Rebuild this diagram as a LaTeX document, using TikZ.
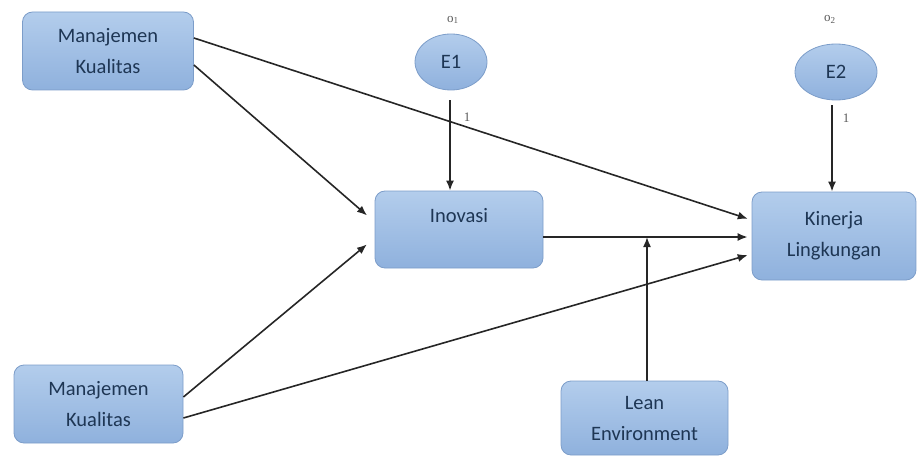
\documentclass[tikz,border=0pt]{standalone}
\usepackage{fontspec}
\setmainfont{Carlito}
\newfontfamily\serifl{Liberation Serif}
\usetikzlibrary{shapes.geometric,arrows.meta,calc}
\definecolor{boxtop}{HTML}{B3CDEC}
\definecolor{boxbot}{HTML}{8FB1DD}
\definecolor{boxline}{HTML}{7C9DC9}
\definecolor{txtc}{HTML}{1E3654}
\tikzset{
  box/.style={draw=boxline, line width=0.8pt, rounded corners=10pt, top color=boxtop, bottom color=boxbot, text=txtc, align=center, inner sep=0pt, font=\fontsize{20.5}{31}\selectfont},
  ell/.style={ellipse, draw=boxline, line width=0.8pt, top color=boxtop, bottom color=boxbot, text=txtc, inner sep=0pt, font=\fontsize{20.5}{24}\selectfont},
  arr/.style={-{Latex[length=10pt,width=8pt]}, line width=1.6pt, draw=black!85},
  small/.style={font=\serifl\fontsize{13}{14}\selectfont, text=black!65, inner sep=0pt}
}
\begin{document}
\begin{tikzpicture}[x=1pt,y=-1pt]
\useasboundingbox (0,0) rectangle (917,457);
% nodes
\node[box, minimum width=171pt, minimum height=78pt] (mk1) at (108,51) {Manajemen\\Kualitas};
\node[box, minimum width=169pt, minimum height=78pt] (mk2) at (98.5,404) {Manajemen\\Kualitas};
\node[box, minimum width=168pt, minimum height=77pt] (ino) at (459,229.5) {};
\node[text=txtc, font=\fontsize{20.5}{24}\selectfont, inner sep=0pt] (inotxt) at (459,216) {Inovasi};
\node[box, minimum width=164pt, minimum height=88pt] (kin) at (834,236) {Kinerja\\Lingkungan};
\node[box, minimum width=167pt, minimum height=74pt] (lean) at (644.5,418) {Lean\\Environment};
\node[ell, minimum width=72pt, minimum height=56pt] (e1) at (451,62) {E1};
\node[ell, minimum width=82pt, minimum height=56pt] (e2) at (836,72) {E2};
\node[small] (o1) at (453,20) {o\textsubscript{1}};
\node[small] (o2) at (830,19) {o\textsubscript{2}};
\node[small] (l1) at (467,117) {1};
\node[small] (l2) at (846,118) {1};
% helper coordinates
\coordinate (inoout) at ([yshift=-7.5pt]ino.east);
% connectors
\draw[arr, shorten >=4pt] ([yshift=13pt]mk1.east) -- ([yshift=16pt]kin.west);
\draw[arr, shorten >=10pt] ([yshift=-14pt]mk1.east) -- ([yshift=7.5pt]ino.west);
\draw[arr, shorten >=10pt] ([yshift=7pt]mk2.east) -- ([yshift=-8.5pt]ino.west);
\draw[arr, shorten >=4pt] ([yshift=-14pt]mk2.east) -- ([yshift=-18pt]kin.west);
\draw[arr, shorten >=4pt] (inoout) -- (inoout -| kin.west);
\draw[arr] ([xshift=2.5pt]lean.north) -- ([xshift=2.5pt]lean.north |- inoout);
\draw[arr, shorten <=10pt] ([xshift=-1pt]e1.south) -- ([xshift=-1pt]e1.south |- ino.north);
\draw[arr, shorten <=5pt] ([xshift=-4pt]e2.south) -- ([xshift=-4pt]e2.south |- kin.north);
\end{tikzpicture}
\end{document}
